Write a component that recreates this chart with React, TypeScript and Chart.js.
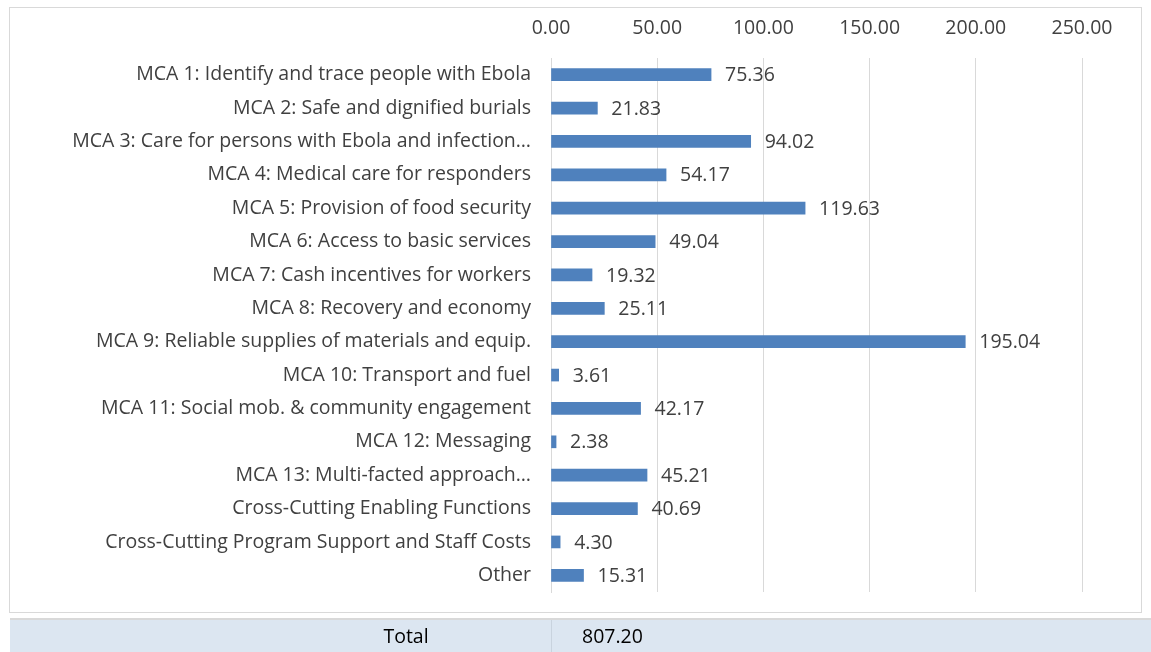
import React, { useEffect, useRef } from "react";
import { Chart, registerables } from "chart.js";

Chart.register(...registerables);

const categories: string[] = [
  "MCA 1: Identify and trace people with Ebola",
  "MCA 2: Safe and dignified burials",
  "MCA 3: Care for persons with Ebola and infection…",
  "MCA 4: Medical care for responders",
  "MCA 5: Provision of food security",
  "MCA 6: Access to basic services",
  "MCA 7: Cash incentives for workers",
  "MCA 8: Recovery and economy",
  "MCA 9: Reliable supplies of materials and equip.",
  "MCA 10: Transport and fuel",
  "MCA 11: Social mob. & community engagement",
  "MCA 12: Messaging",
  "MCA 13: Multi-facted approach…",
  "Cross-Cutting Enabling Functions",
  "Cross-Cutting Program Support and Staff Costs",
  "Other",
];

const values: number[] = [
  75.36, 21.83, 94.02, 54.17, 119.63, 49.04, 19.32, 25.11, 195.04, 3.61, 42.17,
  2.38, 45.21, 40.69, 4.3, 15.31,
];

const totalLabel = "Total";
const totalValue = "807.20";

const FONT = "'Open Sans', Lato, sans-serif";
const TEXT = "#404040";
const FS = 19.5;

const valueLabels = {
  id: "valueLabels",
  afterDatasetsDraw(chart: any) {
    const ctx = chart.ctx;
    const meta = chart.getDatasetMeta(0);
    ctx.save();
    ctx.font = `${FS}px ${FONT}`;
    ctx.fillStyle = TEXT;
    ctx.textAlign = "left";
    ctx.textBaseline = "middle";
    meta.data.forEach((bar: any, i: number) => {
      ctx.fillText(values[i].toFixed(2), bar.x + 14, bar.y + 1);
    });
    ctx.restore();
  },
};

export default function App() {
  const ref = useRef<HTMLCanvasElement>(null);
  useEffect(() => {
    document.body.style.margin = "0";
    const chart = new Chart(ref.current!, {
      type: "bar",
      data: {
        labels: categories,
        datasets: [
          {
            data: values,
            backgroundColor: "#4F81BD",
            barThickness: 12,
          },
        ],
      },
      options: {
        indexAxis: "y",
        animation: false,
        responsive: false,
        maintainAspectRatio: false,
        layout: { padding: { left: 0, right: 59, top: 0, bottom: 20 } },
        plugins: {
          legend: { display: false },
          tooltip: { enabled: false },
        },
        scales: {
          x: {
            position: "top",
            min: 0,
            max: 250,
            ticks: {
              stepSize: 50,
              color: TEXT,
              font: { size: FS, family: FONT },
              padding: 18,
              callback: (v: any) => Number(v).toFixed(2),
            },
            grid: { color: "#D9D9D9", drawTicks: false },
            border: { display: false },
            afterFit: (s: any) => {
              s.height = 50;
            },
          },
          y: {
            ticks: {
              color: TEXT,
              font: { size: FS, family: FONT },
              padding: 20,
            },
            grid: { display: false, drawTicks: false },
            border: { color: "#D9D9D9" },
            afterFit: (s: any) => {
              s.width = 541;
              s.paddingTop = 0;
              s.paddingBottom = 0;
            },
          },
        },
      },
      plugins: [valueLabels],
    });
    return () => chart.destroy();
  }, []);

  return (
    <div
      style={{
        position: "fixed",
        left: 0,
        top: 0,
        width: 1151,
        height: 652,
        background: "#fff",
        fontFamily: FONT,
      }}
    >
      <div
        style={{
          position: "absolute",
          left: 9,
          top: 7,
          width: 1131,
          height: 604,
          border: "1px solid #D9D9D9",
        }}
      >
        <canvas ref={ref} width={1131} height={604} style={{ display: "block" }} />
      </div>
      <div
        style={{
          position: "absolute",
          left: 10,
          top: 618,
          width: 1141,
          height: 34,
          background: "#DCE6F1",
          borderTop: "2px solid #D9D9D9",
          boxSizing: "border-box",
        }}
      >
        <div
          style={{
            position: "absolute",
            left: 541,
            top: 0,
            width: 1,
            height: 34,
            background: "#C9D3DE",
          }}
        />
        <div
          style={{
            position: "absolute",
            left: 256,
            width: 280,
            top: 2,
            textAlign: "center",
            fontSize: FS,
            color: "#000",
          }}
        >
          {totalLabel}
        </div>
        <div
          style={{
            position: "absolute",
            left: 572,
            top: 2,
            fontSize: FS,
            color: "#000",
          }}
        >
          {totalValue}
        </div>
      </div>
    </div>
  );
}
